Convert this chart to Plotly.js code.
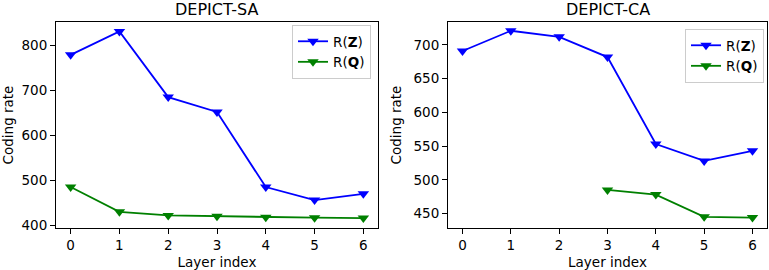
<!DOCTYPE html>
<html>
<head>
<meta charset="utf-8">
<script src="https://cdn.plot.ly/plotly-3.0.1.min.js"></script>
<style>html,body{margin:0;padding:0;background:#fff;}#chart{width:769px;height:270px;}</style>
</head>
<body>
<div id="chart"></div>
<script>
const layers = [0, 1, 2, 3, 4, 5, 6];
const saZ = [779, 831, 685, 652, 485, 456, 470];
const saQ = [485, 430, 422, 420, 418, 417, 416];
const caLayersQ = [3, 4, 5, 6];
const caZ = [691, 721, 712, 682, 553, 528, 543];
const caQ = [485, 478, 445, 444];

const W = 769, H = 270;
const font = {family: 'DejaVu Sans', size: 13.5, color: '#000'};
const mk = c => ({symbol: 'triangle-down', size: 10, color: c});

const traces = [
  {x: layers, y: saZ, name: 'R(<b>Z</b>)', mode: 'lines+markers', line: {color: 'blue', width: 1.8}, marker: mk('blue'), xaxis: 'x', yaxis: 'y', legend: 'legend'},
  {x: layers, y: saQ, name: 'R(<b>Q</b>)', mode: 'lines+markers', line: {color: 'green', width: 1.8}, marker: mk('green'), xaxis: 'x', yaxis: 'y', legend: 'legend'},
  {x: layers, y: caZ, name: 'R(<b>Z</b>)', mode: 'lines+markers', line: {color: 'blue', width: 1.8}, marker: mk('blue'), xaxis: 'x2', yaxis: 'y2', legend: 'legend2'},
  {x: caLayersQ, y: caQ, name: 'R(<b>Q</b>)', mode: 'lines+markers', line: {color: 'green', width: 1.8}, marker: mk('green'), xaxis: 'x2', yaxis: 'y2', legend: 'legend2'}
];

const ydom = [1 - 228 / H, 1 - 22 / H];
const axBase = {
  showline: true, mirror: true, linecolor: '#000', linewidth: 1,
  ticks: 'outside', ticklen: 5, tickcolor: '#000', tickwidth: 1,
  showgrid: false, zeroline: false, tickfont: font
};

const layout = {
  width: W, height: H,
  margin: {l: 0, r: 0, t: 0, b: 0},
  paper_bgcolor: '#fff', plot_bgcolor: '#fff',
  font: font,
  xaxis: Object.assign({}, axBase, {domain: [56 / W, 378 / W], range: [-0.3, 6.3], tickvals: layers, anchor: 'y',
    title: {text: 'Layer index', font: font, standoff: 5}}),
  yaxis: Object.assign({}, axBase, {domain: ydom, range: [394, 852], dtick: 100, anchor: 'x',
    title: {text: 'Coding rate', font: font, standoff: 8}}),
  xaxis2: Object.assign({}, axBase, {domain: [448 / W, 767 / W], range: [-0.3, 6.3], tickvals: layers, anchor: 'y2',
    title: {text: 'Layer index', font: font, standoff: 5}}),
  yaxis2: Object.assign({}, axBase, {domain: ydom, range: [428.5, 734], dtick: 50, anchor: 'x2',
    title: {text: 'Coding rate', font: font, standoff: 8}}),
  legend: {x: 371 / W, xanchor: 'right', y: 1 - 25 / H, yanchor: 'top', bgcolor: 'rgba(255,255,255,0.8)', bordercolor: '#ccc', borderwidth: 1, font: font, tracegroupgap: 0},
  legend2: {x: 764 / W, xanchor: 'right', y: 1 - 29 / H, yanchor: 'top', bgcolor: 'rgba(255,255,255,0.8)', bordercolor: '#ccc', borderwidth: 1, font: font, tracegroupgap: 0},
  annotations: [
    {text: 'DEPICT-SA', xref: 'paper', yref: 'paper', x: (56 + 378) / 2 / W, y: 1 - 10 / H, xanchor: 'center', yanchor: 'middle', showarrow: false, font: {family: 'DejaVu Sans', size: 16, color: '#000'}},
    {text: 'DEPICT-CA', xref: 'paper', yref: 'paper', x: (448 + 767) / 2 / W, y: 1 - 10 / H, xanchor: 'center', yanchor: 'middle', showarrow: false, font: {family: 'DejaVu Sans', size: 16, color: '#000'}}
  ]
};

Plotly.newPlot('chart', traces, layout, {displayModeBar: false, staticPlot: true});
</script>
</body>
</html>
